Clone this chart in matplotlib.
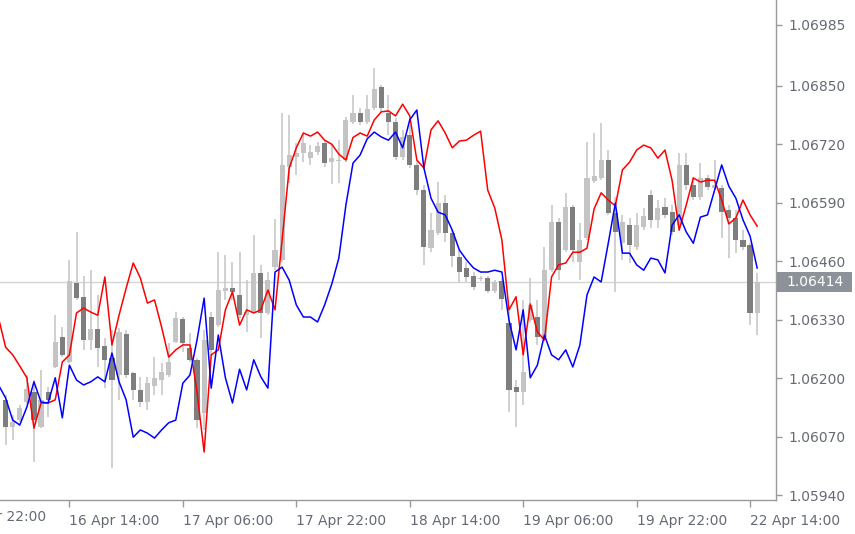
import matplotlib
matplotlib.use("Agg")
import numpy as np
import matplotlib.pyplot as plt
import matplotlib.transforms as mtransforms
from matplotlib.patches import Rectangle

plt.rcParams['font.family'] = ['DejaVu Sans']

# EURUSD H1 candles, bar 1 .. bar 107 (bar 0 sits cut off at the left edge)
bar_open = [
    1.06152, 1.06092, 1.06107, 1.06147, 1.06169, 1.06092, 1.06169, 1.06225, 1.06292, 1.06236,
    1.06412, 1.06381, 1.06285, 1.06309, 1.06272, 1.06245, 1.06207, 1.06298, 1.06212, 1.06174,
    1.06147, 1.06183, 1.06196, 1.06207, 1.06281, 1.06332, 1.06267, 1.06241, 1.06123, 1.06336,
    1.06318, 1.06394, 1.06400, 1.06385, 1.06340, 1.06347, 1.06434, 1.06345, 1.06447, 1.06463,
    1.06669, 1.06692, 1.06700, 1.06689, 1.06703, 1.06723, 1.06680, 1.06683, 1.06685, 1.06769,
    1.06789, 1.06769, 1.06800, 1.06847, 1.06789, 1.06769, 1.06692, 1.06740, 1.06674, 1.06618,
    1.06489, 1.06523, 1.06589, 1.06523, 1.06469, 1.06445, 1.06427, 1.06420, 1.06423, 1.06394,
    1.06416, 1.06323, 1.06181, 1.06169, 1.06329, 1.06336, 1.06292, 1.06440, 1.06547, 1.06485,
    1.06580, 1.06458, 1.06512, 1.06638, 1.06645, 1.06685, 1.06567, 1.06500, 1.06540, 1.06492,
    1.06536, 1.06607, 1.06552, 1.06580, 1.06569, 1.06540, 1.06674, 1.06629, 1.06603, 1.06645,
    1.06623, 1.06623, 1.06574, 1.06556, 1.06507, 1.06496, 1.06345,
]
bar_high = [
    1.06163, 1.06118, 1.06141, 1.06207, 1.06196, 1.06218, 1.06181, 1.06340, 1.06314, 1.06463,
    1.06525, 1.06427, 1.06440, 1.06385, 1.06289, 1.06307, 1.06312, 1.06307, 1.06214, 1.06203,
    1.06203, 1.06247, 1.06234, 1.06278, 1.06347, 1.06336, 1.06301, 1.06245, 1.06307, 1.06347,
    1.06480, 1.06474, 1.06458, 1.06480, 1.06418, 1.06518, 1.06452, 1.06436, 1.06554, 1.06789,
    1.06785, 1.06723, 1.06745, 1.06718, 1.06725, 1.06729, 1.06718, 1.06729, 1.06780, 1.06829,
    1.06800, 1.06829, 1.06889, 1.06852, 1.06829, 1.06778, 1.06752, 1.06763, 1.06685, 1.06629,
    1.06567, 1.06636, 1.06607, 1.06529, 1.06485, 1.06458, 1.06436, 1.06427, 1.06427, 1.06418,
    1.06423, 1.06356, 1.06196, 1.06374, 1.06423, 1.06374, 1.06492, 1.06585, 1.06556, 1.06612,
    1.06585, 1.06545, 1.06725, 1.06745, 1.06767, 1.06707, 1.06603, 1.06563, 1.06556, 1.06567,
    1.06578, 1.06618, 1.06596, 1.06600, 1.06585, 1.06700, 1.06700, 1.06647, 1.06678, 1.06652,
    1.06685, 1.06629, 1.06585, 1.06574, 1.06529, 1.06500, 1.06434,
]
bar_low = [
    1.06052, 1.06063, 1.06103, 1.06143, 1.06014, 1.06089, 1.06114, 1.06223, 1.06247, 1.06234,
    1.06374, 1.06263, 1.06263, 1.06225, 1.06178, 1.06001, 1.06152, 1.06201, 1.06152, 1.06136,
    1.06129, 1.06163, 1.06163, 1.06203, 1.06278, 1.06258, 1.06236, 1.06089, 1.06085, 1.06252,
    1.06314, 1.06374, 1.06374, 1.06334, 1.06303, 1.06345, 1.06289, 1.06340, 1.06440, 1.06458,
    1.06634, 1.06652, 1.06680, 1.06674, 1.06696, 1.06669, 1.06632, 1.06634, 1.06680, 1.06765,
    1.06763, 1.06765, 1.06796, 1.06792, 1.06740, 1.06685, 1.06685, 1.06667, 1.06607, 1.06452,
    1.06480, 1.06518, 1.06503, 1.06447, 1.06412, 1.06414, 1.06396, 1.06416, 1.06389, 1.06389,
    1.06352, 1.06125, 1.06092, 1.06141, 1.06325, 1.06274, 1.06285, 1.06436, 1.06418, 1.06480,
    1.06458, 1.06418, 1.06507, 1.06634, 1.06640, 1.06563, 1.06392, 1.06463, 1.06456, 1.06485,
    1.06529, 1.06534, 1.06534, 1.06556, 1.06518, 1.06534, 1.06618, 1.06596, 1.06596, 1.06618,
    1.06618, 1.06512, 1.06467, 1.06478, 1.06485, 1.06318, 1.06296,
]
bar_close = [
    1.06092, 1.06103, 1.06134, 1.06176, 1.06107, 1.06152, 1.06152, 1.06281, 1.06252, 1.06416,
    1.06378, 1.06285, 1.06309, 1.06267, 1.06241, 1.06196, 1.06303, 1.06207, 1.06174, 1.06147,
    1.06189, 1.06201, 1.06214, 1.06236, 1.06334, 1.06278, 1.06241, 1.06107, 1.06285, 1.06263,
    1.06396, 1.06400, 1.06392, 1.06340, 1.06347, 1.06434, 1.06345, 1.06418, 1.06485, 1.06674,
    1.06696, 1.06700, 1.06723, 1.06703, 1.06716, 1.06678, 1.06689, 1.06685, 1.06774, 1.06789,
    1.06769, 1.06798, 1.06843, 1.06800, 1.06769, 1.06692, 1.06736, 1.06674, 1.06618, 1.06492,
    1.06529, 1.06589, 1.06523, 1.06472, 1.06436, 1.06425, 1.06403, 1.06423, 1.06394, 1.06414,
    1.06376, 1.06174, 1.06169, 1.06214, 1.06363, 1.06292, 1.06440, 1.06547, 1.06440, 1.06580,
    1.06485, 1.06507, 1.06645, 1.06649, 1.06685, 1.06567, 1.06525, 1.06547, 1.06496, 1.06540,
    1.06560, 1.06552, 1.06578, 1.06563, 1.06525, 1.06674, 1.06629, 1.06603, 1.06645, 1.06625,
    1.06629, 1.06569, 1.06556, 1.06507, 1.06492, 1.06345, 1.06414,
]
first_candle = 1

# two overlay lines, bar 0 .. bar 107, in chart price terms
red_line = [
    1.06334, 1.06269, 1.06252, 1.06227, 1.06201, 1.06089, 1.06145, 1.06145, 1.06152, 1.06236,
    1.06252, 1.06345, 1.06356, 1.06347, 1.06340, 1.06425, 1.06274, 1.06340, 1.06400, 1.06456,
    1.06423, 1.06367, 1.06374, 1.06314, 1.06247, 1.06263, 1.06274, 1.06274, 1.06169, 1.06036,
    1.06252, 1.06263, 1.06352, 1.06392, 1.06318, 1.06352, 1.06345, 1.06352, 1.06396, 1.06352,
    1.06507, 1.06667, 1.06712, 1.06745, 1.06738, 1.06747, 1.06729, 1.06720, 1.06698, 1.06685,
    1.06735, 1.06745, 1.06738, 1.06774, 1.06792, 1.06794, 1.06783, 1.06809, 1.06783, 1.06685,
    1.06667, 1.06752, 1.06772, 1.06745, 1.06712, 1.06727, 1.06729, 1.06740, 1.06749, 1.06618,
    1.06578, 1.06507, 1.06352, 1.06381, 1.06252, 1.06365, 1.06303, 1.06285, 1.06425, 1.06452,
    1.06456, 1.06480, 1.06480, 1.06489, 1.06576, 1.06612, 1.06596, 1.06583, 1.06663, 1.06680,
    1.06707, 1.06718, 1.06712, 1.06689, 1.06707, 1.06640, 1.06529, 1.06585, 1.06645, 1.06636,
    1.06640, 1.06640, 1.06596, 1.06543, 1.06556, 1.06596, 1.06563, 1.06538,
]
blue_line = [
    1.06185, 1.06156, 1.06107, 1.06096, 1.06136, 1.06192, 1.06147, 1.06145, 1.06201, 1.06112,
    1.06229, 1.06196, 1.06185, 1.06192, 1.06203, 1.06192, 1.06256, 1.06192, 1.06152, 1.06069,
    1.06085, 1.06078, 1.06067, 1.06085, 1.06101, 1.06107, 1.06189, 1.06207, 1.06285, 1.06378,
    1.06178, 1.06296, 1.06201, 1.06145, 1.06220, 1.06174, 1.06241, 1.06203, 1.06178, 1.06436,
    1.06447, 1.06418, 1.06363, 1.06336, 1.06336, 1.06325, 1.06363, 1.06409, 1.06467, 1.06585,
    1.06678, 1.06696, 1.06732, 1.06747, 1.06736, 1.06729, 1.06747, 1.06712, 1.06774, 1.06796,
    1.06667, 1.06600, 1.06569, 1.06563, 1.06529, 1.06485, 1.06463, 1.06445, 1.06436, 1.06436,
    1.06440, 1.06436, 1.06329, 1.06263, 1.06352, 1.06201, 1.06229, 1.06296, 1.06252, 1.06241,
    1.06263, 1.06225, 1.06274, 1.06385, 1.06425, 1.06414, 1.06500, 1.06589, 1.06478, 1.06478,
    1.06452, 1.06440, 1.06467, 1.06463, 1.06434, 1.06540, 1.06563, 1.06525, 1.06500, 1.06558,
    1.06563, 1.06618, 1.06674, 1.06627, 1.06600, 1.06552, 1.06516, 1.06445,
]

time_tick_bars = [-6, 10, 26, 42, 58, 74, 90, 106]
time_tick_labels = ["15 Apr 22:00", "16 Apr 14:00", "17 Apr 06:00", "17 Apr 22:00",
                    "18 Apr 14:00", "19 Apr 06:00", "19 Apr 22:00", "22 Apr 14:00"]
price_ticks = [1.05940, 1.06070, 1.06200, 1.06330, 1.06460,
               1.06590, 1.06720, 1.06850, 1.06985]
last_price = 1.06414

UP = '#c4c4c4'
DOWN = '#7e7e7e'
WICK = '#c8c8c8'
AXIS = '#9a9a9a'
TEXT = '#666a75'

fig = plt.figure(figsize=(8.55, 5.34), dpi=100)
ax = fig.add_axes([0, 34 / 534, 776 / 855, 500 / 534])

# current price line
ax.axhline(last_price, color='#d4d4d4', lw=1.0, zorder=1)

# candles
for k, (o, h, l, c) in enumerate(zip(bar_open, bar_high, bar_low, bar_close)):
    x = first_candle + k
    ax.vlines(x, l, h, color=WICK, lw=1.2, zorder=2)
    body = max(abs(c - o), 0.00003)
    ax.add_patch(Rectangle((x - 0.36, min(o, c)), 0.72, body,
                           facecolor=UP if c >= o else DOWN, edgecolor='none', zorder=3))

xs = np.arange(len(red_line))
ax.plot(xs, red_line, color='#ff0000', lw=1.1, zorder=4)
ax.plot(np.arange(len(blue_line)), blue_line, color='#0000ff', lw=1.1, zorder=4)

ax.set_xlim(0.21, 109.66)
ax.set_ylim(1.059294, 1.070405)

for s in ['top', 'left']:
    ax.spines[s].set_visible(False)
for s in ['right', 'bottom']:
    ax.spines[s].set_color(AXIS)
    ax.spines[s].set_linewidth(1.0)

ax.yaxis.tick_right()
ax.set_yticks(price_ticks)
ax.set_yticklabels([f"{p:.5f}" for p in price_ticks])
ax.tick_params(axis='y', direction='out', length=4, width=1, color=AXIS,
               labelsize=10, labelcolor=TEXT, pad=5)

inside = [(b, t) for b, t in zip(time_tick_bars, time_tick_labels) if b > 0]
ax.set_xticks([b for b, _ in inside])
ax.set_xticklabels([t for _, t in inside], ha='left')
ax.tick_params(axis='x', direction='out', length=5, width=1, color=AXIS,
               labelsize=10, labelcolor=TEXT, pad=5)

# label of the tick that lies left of the visible range
trans_x = mtransforms.blended_transform_factory(ax.transData, ax.transAxes)
for b, t in zip(time_tick_bars, time_tick_labels):
    if b <= 0:
        ax.text(b, 0, t, transform=trans_x, ha='left', va='top', fontsize=10,
                color=TEXT, clip_on=False).set_y(-0.02)

# current price tag on the price scale
trans_y = mtransforms.blended_transform_factory(ax.transAxes, ax.transData)
tag_h = 20 / 45000
ax.add_patch(Rectangle((1.0015, last_price - tag_h / 2), 0.097, tag_h,
                       transform=trans_y, facecolor='#8d9199', edgecolor='none',
                       clip_on=False, zorder=5))
ax.text(1.0015 + 0.0485, last_price, f"{last_price:.5f}", transform=trans_y,
        ha='center', va='center', fontsize=10, color='white', clip_on=False, zorder=6)

fig.savefig('out.png', dpi=100)
